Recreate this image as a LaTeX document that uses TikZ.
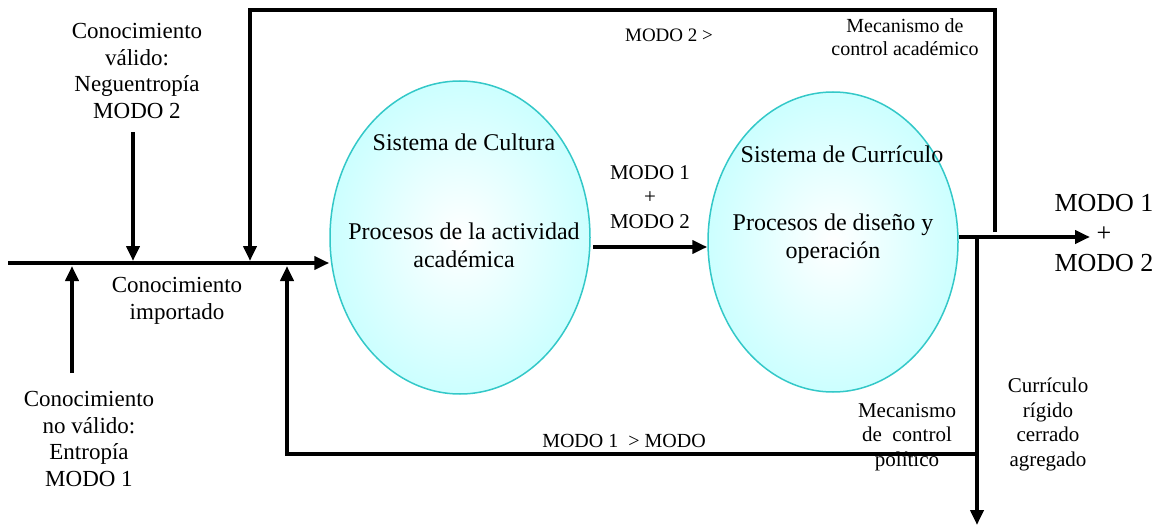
\documentclass[tikz,border=0pt]{standalone}
\usepackage{fontspec}
\setmainfont{Liberation Serif}
\usetikzlibrary{shapes.geometric,arrows.meta}
\definecolor{rim}{RGB}{51,200,200}
\definecolor{pale}{RGB}{204,255,255}
\begin{document}
\begin{tikzpicture}[x=1pt,y=-1pt,
  flow/.style={line width=4.5pt, line join=miter, -{Triangle[length=15pt,width=13pt]}},
  plain/.style={line width=4.5pt, line join=miter},
  sys/.style={ellipse, draw=rim, line width=1.5pt, shading=radial, inner color=white, outer color=pale, inner sep=0pt},
  big/.style={font=\fontsize{24}{27.5}\selectfont, align=center, inner sep=0pt},
  lab/.style={font=\fontsize{23}{26.5}\selectfont, align=center, inner sep=0pt},
  small/.style={font=\fontsize{21}{24.5}\selectfont, align=center, inner sep=0pt},
]
\useasboundingbox (0,0) rectangle (1163,527);

% systems
\node[sys, minimum width=260pt, minimum height=313pt] (c1) at (460,237.5) {};
\node[sys, minimum width=250pt, minimum height=300pt] (c2) at (833,242) {};

\node[big, anchor=base] (c1t) at (464,150) {Sistema de Cultura};
\node[big] (c1p) at (464,245.5) {Procesos de la actividad\\académica};
\node[big, anchor=base] (c2t) at (842,162) {Sistema de Currículo};
\node[big] (c2p) at (833,238.5) {Procesos de diseño y\\operación};

% labels
\node[lab] (valido) at (137,71) {Conocimiento\\válido:\\Neguentropía\\MODO 2};
\node[lab] (import) at (177,301) {Conocimiento\\importado};
\node[lab] (novalido) at (89,439) {Conocimiento\\no válido:\\Entropía\\MODO 1};
\node[small] (mid) at (650,197) {MODO 1\\+\\MODO 2};
\node[font=\fontsize{26}{30}\selectfont, align=center, inner sep=0pt] (out) at (1104,233) {MODO 1\\+\\MODO 2};
\node[font=\fontsize{19}{22}\selectfont, anchor=base, inner sep=0pt] (m2) at (669,42) {MODO 2 >};
\node[font=\fontsize{20}{23}\selectfont, align=center, inner sep=0pt] (acad) at (905,37) {Mecanismo de\\control académico};
\node[small] (pol) at (907,437) {Mecanismo\\de\ \ control\\político};
\node[small] (rig) at (1048,424.5) {Currículo\\rígido\\cerrado\\agregado};
\node[font=\fontsize{20}{23}\selectfont, anchor=base, inner sep=0pt] (m1) at (624,447) {MODO 1\ \ > MODO};

% coordinates
\coordinate (in0) at (8,263);
\coordinate (s1) at (133,132);
\coordinate (j1) at (133,261);
\coordinate (u0) at (72,373);
\coordinate (j3) at (72,266);
\coordinate (t1) at (995,232);
\coordinate (t2) at (995,10);
\coordinate (t3) at (250,10);
\coordinate (j2) at (250,261);
\coordinate (b0) at (977,454);
\coordinate (b1) at (287,454);
\coordinate (j4) at (287,266);
\coordinate (m0) at (593,247);
\coordinate (r1) at (1090,237);
\coordinate (d0) at (977,237);
\coordinate (d1) at (977,525);

% connectors
\draw[flow] (in0) -- (in0 -| c1.west);
\draw[flow] (s1) -- (j1);
\draw[flow] (u0) -- (j3);
\draw[flow] (t1) -- (t2) -- (t3) -- (j2);
\draw[flow] (b0) -- (b1) -- (j4);
\draw[flow] (m0) -- (m0 -| c2.west);
\draw[flow] (r1 -| c2.east) -- (r1);
\draw[flow] (d0) -- (d1);
\end{tikzpicture}
\end{document}
